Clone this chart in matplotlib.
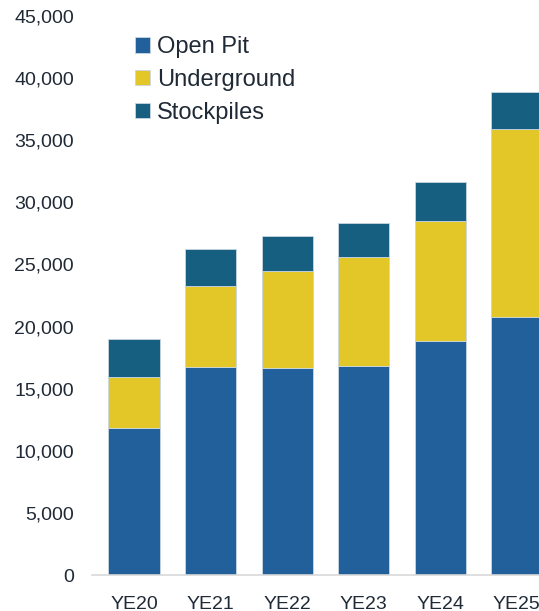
import matplotlib
matplotlib.use("Agg")
import matplotlib.pyplot as plt
import numpy as np

years = ["YE20", "YE21", "YE22", "YE23", "YE24", "YE25"]
open_pit = [11850, 16750, 16650, 16850, 18850, 20800]
underground = [4100, 6500, 7800, 8750, 9650, 15100]
stockpiles = [3050, 3000, 2850, 2750, 3150, 2950]

series = [
    ("Open Pit", open_pit, "#22609C"),
    ("Underground", underground, "#E3C627"),
    ("Stockpiles", stockpiles, "#175F80"),
]

text_color = "#1F2A36"
plt.rcParams["font.family"] = ["Liberation Sans", "DejaVu Sans"]

fig = plt.figure(figsize=(5.39, 6.11), dpi=100)
ax = fig.add_axes([92 / 539, 1 - 575 / 611, 1 - 92 / 539, (575 - 16) / 611])

x = np.arange(len(years))
bottom = np.zeros(len(years))
handles = []
for name, vals, color in series:
    b = ax.bar(x, vals, width=0.67, bottom=bottom, color=color,
               edgecolor="#C9D6E0", linewidth=0.6, label=name)
    handles.append(b)
    bottom += np.array(vals)

ax.set_xlim(-0.55, 5.29)
ax.set_ylim(0, 45000)
ax.set_yticks(np.arange(0, 45001, 5000))
ax.set_yticklabels([f"{v:,}" for v in range(0, 45001, 5000)])
ax.set_xticks(x)
ax.set_xticklabels(years)
ax.tick_params(axis="y", length=0, pad=13, labelsize=14, labelcolor=text_color)
ax.tick_params(axis="x", length=0, pad=15, labelsize=14, labelcolor=text_color)

for s in ["top", "right", "left"]:
    ax.spines[s].set_visible(False)
ax.spines["bottom"].set_color("#D9D9D9")
ax.spines["bottom"].set_linewidth(1.2)

leg = fig.legend(handles=handles, labels=[s[0] for s in series],
                 loc="upper left", bbox_to_anchor=(135 / 539, 1 - 36 / 611),
                 frameon=False, fontsize=17, handlelength=0.64, handleheight=0.64,
                 handletextpad=0.3, labelspacing=0.46, borderpad=0,
                 borderaxespad=0, labelcolor=text_color)

fig.savefig("out.png", dpi=100)
